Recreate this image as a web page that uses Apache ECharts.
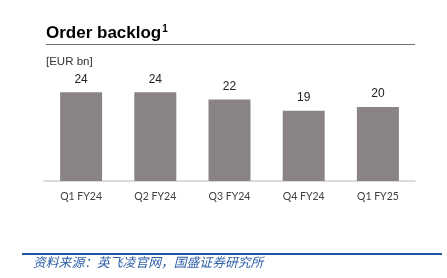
<!DOCTYPE html>
<html><head><meta charset="utf-8">
<script src="https://cdn.jsdelivr.net/npm/echarts@6/dist/echarts.min.js"></script>
<style>html,body{margin:0;padding:0;background:#fff}#c{width:447px;height:278px}</style>
</head><body><div id="c"></div>
<script>
const categories = ['Q1 FY24','Q2 FY24','Q3 FY24','Q4 FY24','Q1 FY25'];
const backlog = [24, 24, 22, 19, 20];
const unitLabel = '[EUR bn]';
const sourceText = '资料来源：英飞凌官网，国盛证券研究所';

const chart = echarts.init(document.getElementById('c'), null, {renderer:'canvas'});
chart.setOption({
  animation: false,
  backgroundColor: '#fff',
  title: {
    text: '{t|Order backlog}{s|1}',
    left: 41, top: 19,
    textStyle: {
      rich: {
        t: {fontFamily: 'Liberation Sans, Arial', fontWeight: 'bold', fontSize: 17, color: '#000'},
        s: {fontFamily: 'Liberation Sans, Arial', fontWeight: 'bold', fontSize: 10, color: '#000', verticalAlign: 'top', padding: [0,0,8,1]}
      }
    }
  },
  grid: {left: 44, right: 32, top: 70, bottom: 97, containLabel: false},
  xAxis: {
    type: 'category', data: categories,
    axisLine: {lineStyle: {color: '#d0d0d0', width: 1.5}},
    axisTick: {show: false},
    axisLabel: {color: '#404040', fontFamily: 'Lato, Open Sans, sans-serif', fontSize: 10.5, margin: 10}
  },
  yAxis: {type: 'value', min: 0, max: 30, show: false, splitLine: {show: false}},
  series: [{
    type: 'bar', data: backlog, barWidth: 42,
    itemStyle: {color: '#898483'},
    label: {show: true, position: 'top', distance: 7, color: '#222', fontFamily: 'Liberation Sans, Arial', fontSize: 12}
  }],
  graphic: [
    {type: 'line', shape: {x1: 46, y1: 44.5, x2: 415, y2: 44.5}, style: {stroke: '#707070', lineWidth: 1}},
    {type: 'text', left: 46, top: 56, style: {text: unitLabel, fill: '#333', font: '11.5px "Liberation Sans", Arial'}},
    {type: 'line', shape: {x1: 22, y1: 254, x2: 442, y2: 254}, style: {stroke: '#1f56a3', lineWidth: 2}},
    {type: 'text', left: 33, top: 256, style: {text: sourceText, fill: '#2f5ea8', font: 'italic 12.8px "Noto Sans CJK SC"'}}
  ]
});
</script></body></html>
